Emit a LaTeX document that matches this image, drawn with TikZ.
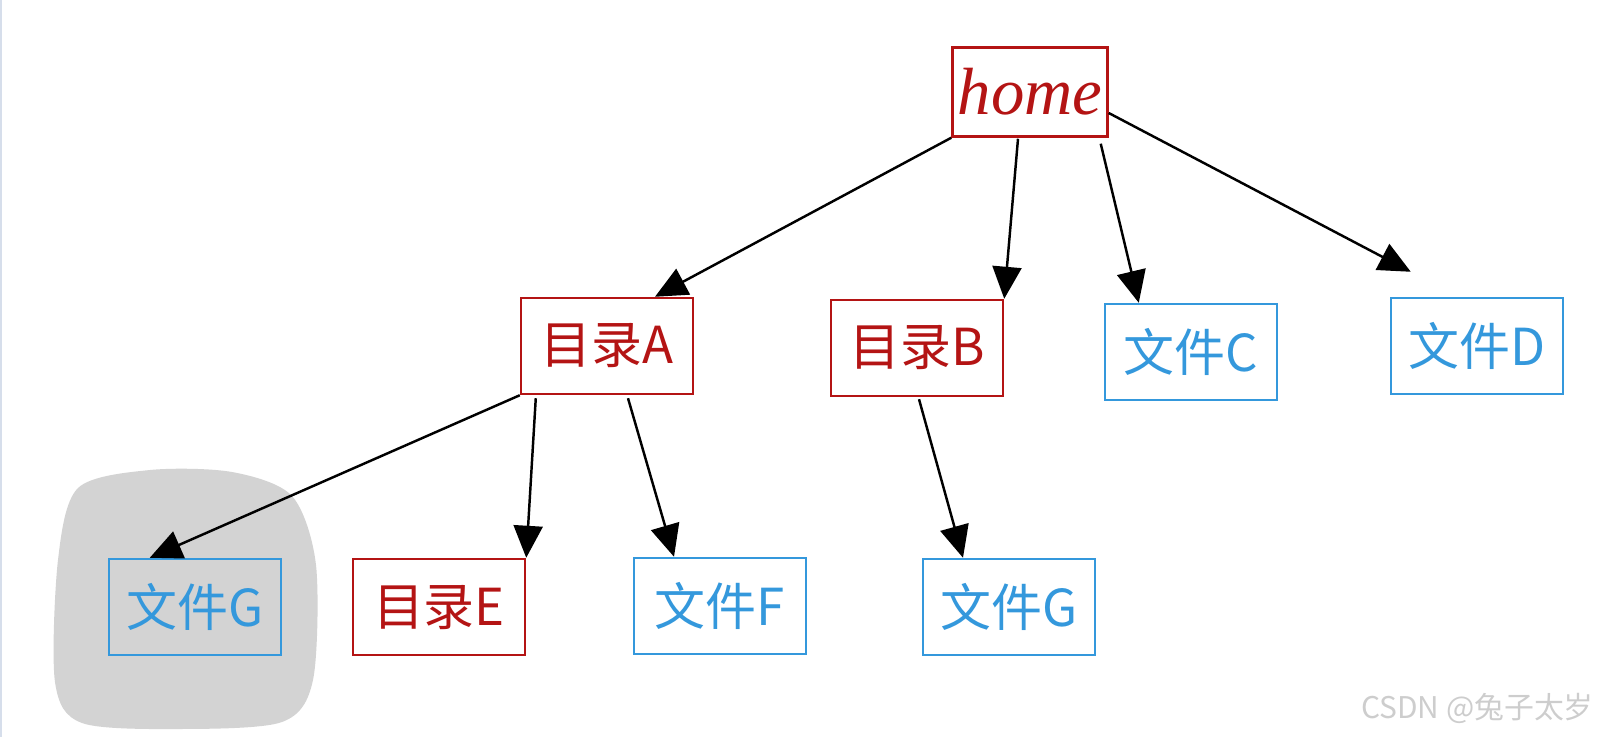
\documentclass[tikz,border=0pt]{standalone}
\usepackage{fontspec}
\setmainfont{Noto Sans CJK SC}
\newfontfamily\homefont{Liberation Serif}
\usetikzlibrary{arrows.meta,calc}
\definecolor{DirRed}{RGB}{180,20,20}
\definecolor{FileBlue}{RGB}{52,152,220}
\definecolor{BlobGray}{RGB}{211,211,211}
\definecolor{EdgeLine}{RGB}{214,222,235}
\definecolor{MarkGray}{RGB}{205,205,205}
\tikzset{
  box/.style={draw,line width=1.4pt,minimum width=34.4mm,minimum height=19.2mm,inner sep=0pt,font=\fontsize{29}{34}\selectfont},
  dirbox/.style={box,draw=DirRed,text=DirRed},
  filebox/.style={box,draw=FileBlue,text=FileBlue},
  link/.style={draw=black,line width=1.4pt,-{Triangle[length=6.4mm,width=5.8mm]}},
}
\begin{document}
\begin{tikzpicture}[x=0.2mm,y=-0.2mm]
\useasboundingbox (0,0) rectangle (1606,737);
\draw[EdgeLine,line width=0.4mm] (1,0)--(1,737);
\fill[BlobGray] plot[smooth cycle] coordinates {(78,488) (150,470) (232,472) (292,496) (316,565) (313,680) (282,722) (180,729) (82,723) (55,682) (58,560)};
\node[dirbox,minimum width=31mm,minimum height=17.8mm,font=\fontsize{38}{42}\selectfont] (home) at (1030,92) {\homefont\itshape home};
\node[dirbox] (dirA) at (607,346) {目录A};
\node[dirbox] (dirB) at (917,348) {目录B};
\node[filebox] (fileC) at (1191,352) {文件C};
\node[filebox] (fileD) at (1477,346) {文件D};
\node[filebox] (fileGa) at (195,607) {文件G};
\node[dirbox] (dirE) at (439,607) {目录E};
\node[filebox] (fileF) at (720,606) {文件F};
\node[filebox] (fileGb) at (1009,607) {文件G};
\coordinate (tipD) at ($(fileD.north west)+(21,-25)$);
% arrows from parent to child
\draw[link] (home.south west) -- ($(dirA.north)+(48,0)$);
\draw[link] ($(home.south)+(-12,1)$) -- (dirB.north east);
\draw[link] ($(home.south east)+(-8,6)$) -- ($(fileC.north west)+(35,0)$);
\draw[link] ($(home.east)+(0,21)$) -- (tipD);
\draw[link] (dirA.south west) -- ($(fileGa.north west)+(42,0)$);
\draw[link] ($(dirA.south west)+(16,3)$) -- (dirE.north east);
\draw[link] ($(dirA.south)+(21,3)$) -- ($(fileF.north)+(-46,0)$);
\draw[link] ($(dirB.south)+(2,2)$) -- ($(fileGb.north)+(-46,0)$);
\node[text=MarkGray,anchor=east,font=\fontsize{17}{20}\selectfont] (mark) at (1600,708) {CSDN @兔子太岁};
\end{tikzpicture}
\end{document}
